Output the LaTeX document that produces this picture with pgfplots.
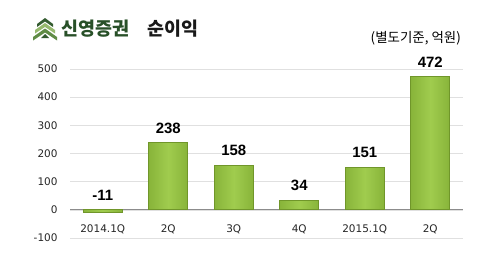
\documentclass[border=0pt]{standalone}
\usepackage{pgfplots}
\pgfplotsset{compat=1.18}
\usepackage{fontspec}
\setmainfont{DejaVu Sans}
\newfontfamily\kr{Noto Sans CJK KR}
\newfontfamily\lab{Liberation Sans}
\definecolor{bardraw}{RGB}{112,150,42}
\definecolor{barside}{RGB}{136,180,58}
\definecolor{barlight}{RGB}{160,204,78}
\definecolor{logodark}{RGB}{52,92,48}
\definecolor{logomid}{RGB}{96,140,70}
\definecolor{logolight}{RGB}{150,185,110}
\pgfplotsset{barst/.style={ybar, bar width=39bp, draw=bardraw, line width=1pt, left color=barside, right color=barside, middle color=barlight, forget plot}}
\begin{document}
\begin{tikzpicture}[x=1bp,y=1bp]
\useasboundingbox (0,0) rectangle (500,260);
\fill[white] (0,0) rectangle (500,260);
% logo
\fill[logodark] (45,242) -- (53,236) -- (53,233) -- (45,238.5) -- (37,233) -- (37,236) -- cycle;
\fill[logolight] (45,237) -- (55,230) -- (55,226.5) -- (45,233) -- (35,226.5) -- (35,230) -- cycle;
\fill[logomid] (45,231.5) -- (57,223) -- (57,219.5) -- (45,227.5) -- (33,219.5) -- (33,223) -- cycle;
\fill[logodark] (45,226) -- (49,222) -- (41,222) -- cycle;
\node[anchor=west, inner sep=0, font=\kr\bfseries\fontsize{18.5}{20}\selectfont, text={rgb,255:red,40;green,80;blue,40}] at (61,231) {신영증권};
\node[anchor=west, inner sep=0, font=\kr\bfseries\fontsize{18.5}{20}\selectfont, text=black!90] at (147,231) {순이익};
\node[anchor=east, inner sep=0, font=\kr\fontsize{13.5}{15}\selectfont] at (461,222) {(별도기준, 억원)};
\begin{axis}[
  at={(70bp,22bp)}, anchor=south west, scale only axis,
  width=393bp, height=169bp,
  xmin=-0.5, xmax=5.5, ymin=-100, ymax=500,
  ytick={-100,0,100,200,300,400,500},
  xtick={0,1,2,3,4,5},
  xticklabels={2014.1Q,2Q,3Q,4Q,2015.1Q,2Q},
  ymajorgrids, grid style={color=black!12, line width=0.6pt},
  axis line style={draw=none},
  major tick length=0pt,
  /pgf/number format/assume math mode=true,
  tick label style={font=\fontsize{10.5}{12}\selectfont, text=black!85},
  yticklabel style={xshift=-9bp},
  xticklabel style={anchor=center, yshift=9bp},
  clip=false,
]
\draw[color=black!45, line width=0.8pt] (axis cs:-0.5,0) -- (axis cs:5.5,0);
\addplot[barst] coordinates {(0,-11)};
\addplot[barst] coordinates {(1,238)};
\addplot[barst] coordinates {(2,158)};
\addplot[barst] coordinates {(3,34)};
\addplot[barst] coordinates {(4,151)};
\addplot[barst] coordinates {(5,472)};
\addplot[draw=none, mark=none, nodes near coords, point meta=explicit symbolic,
  nodes near coords style={font=\lab\bfseries\fontsize{15}{16}\selectfont, anchor=south, yshift=6bp}]
  coordinates {(0,0)[-11] (1,238)[238] (2,158)[158] (3,34)[34] (4,151)[151] (5,472)[472]};
\end{axis}
\end{tikzpicture}
\end{document}
